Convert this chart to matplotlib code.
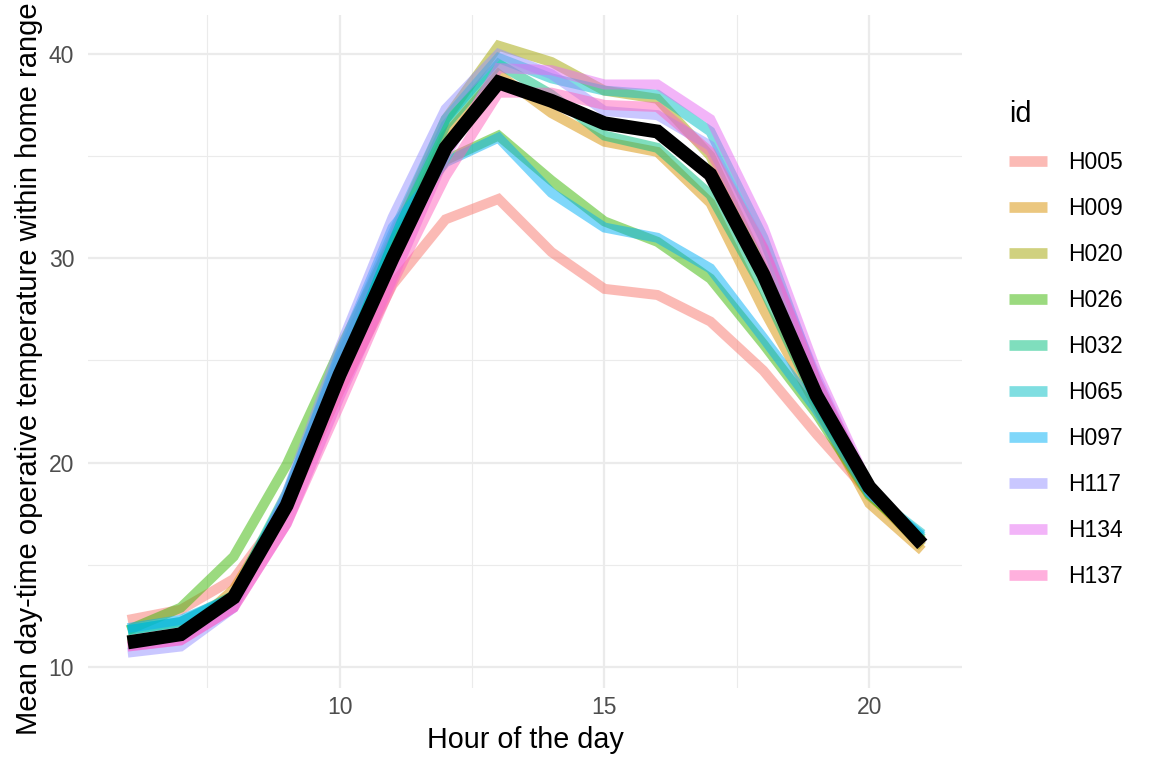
import numpy as np
import matplotlib.pyplot as plt
from matplotlib.ticker import MultipleLocator

# hour of the day
hours = list(range(6, 22))

ids = ['H005', 'H009', 'H020', 'H026', 'H032', 'H065', 'H097', 'H117', 'H134', 'H137']
colours = ['#F8766D', '#D89000', '#A3A500', '#39B600', '#00BF7D',
           '#00BFC4', '#00B0F6', '#9590FF', '#E76BF3', '#FF62BC']

# mean operative temperature per home range, one list per id
h005 = [12.3, 12.8, 14.3, 17.8, 23.5, 28.7, 31.9, 32.9, 30.3, 28.5, 28.2, 26.9, 24.5, 21.4, 18.5, 16.0]
h009 = [11.2, 11.5, 13.8, 18.0, 24.5, 30.2, 36.0, 39.0, 37.1, 35.7, 35.2, 32.7, 27.5, 22.8, 18.0, 15.7]
h020 = [11.3, 11.6, 13.5, 18.2, 25.0, 31.0, 36.8, 40.4, 39.6, 38.2, 37.8, 35.0, 29.5, 23.5, 18.5, 15.9]
h026 = [11.8, 12.9, 15.4, 19.9, 25.5, 30.8, 34.8, 36.0, 33.8, 31.8, 30.8, 29.0, 25.8, 22.4, 18.4, 16.2]
h032 = [11.8, 12.2, 13.5, 18.5, 25.0, 30.8, 36.5, 39.5, 38.0, 36.0, 35.4, 33.1, 28.5, 23.0, 18.6, 16.3]
h065 = [11.8, 12.2, 13.4, 18.4, 25.2, 31.2, 36.8, 39.8, 38.8, 38.2, 38.0, 36.2, 31.0, 24.0, 18.5, 16.5]
h097 = [11.9, 12.3, 13.4, 18.3, 25.3, 31.5, 34.7, 35.9, 33.2, 31.5, 31.0, 29.5, 26.1, 22.6, 18.5, 16.4]
h117 = [10.7, 11.0, 12.9, 18.5, 25.6, 32.0, 37.3, 40.0, 39.0, 37.2, 37.0, 35.5, 30.5, 24.2, 18.6, 16.0]
h134 = [11.0, 11.3, 12.9, 17.0, 23.2, 29.0, 35.0, 39.3, 39.2, 38.5, 38.5, 36.8, 31.5, 24.5, 18.8, 16.1]
h137 = [11.0, 11.3, 12.9, 17.0, 22.8, 28.8, 34.0, 38.1, 38.1, 37.5, 37.4, 35.2, 30.5, 24.0, 18.7, 16.0]
series = [h005, h009, h020, h026, h032, h065, h097, h117, h134, h137]

# overall mean (black line)
mean_temp = [11.2, 11.6, 13.4, 17.9, 24.3, 30.0, 35.4, 38.6, 37.7, 36.6, 36.2, 34.1, 29.2, 23.3, 18.8, 16.0]

plt.rcParams['font.family'] = ['Liberation Sans', 'DejaVu Sans']

fig = plt.figure(figsize=(11.52, 7.68), dpi=100)
ax = fig.add_axes([88/1152, 80/768, 874/1152, 673/768])

for vals, name, col in zip(series, ids, colours):
    ax.plot(hours, vals, color=col, alpha=0.5, lw=7.2, label=name,
            solid_joinstyle='miter', solid_capstyle='butt')
ax.plot(hours, mean_temp, color='black', lw=10, solid_joinstyle='miter',
        solid_capstyle='butt')

ax.set_xlim(5.25, 21.75)
ax.set_ylim(8.97, 41.9)
ax.xaxis.set_major_locator(MultipleLocator(5))
ax.xaxis.set_minor_locator(MultipleLocator(2.5))
ax.yaxis.set_major_locator(MultipleLocator(10))
ax.yaxis.set_minor_locator(MultipleLocator(5))
ax.grid(which='major', color='#EBEBEB', lw=1.6)
ax.grid(which='minor', color='#EBEBEB', lw=0.8)
ax.set_axisbelow(True)
for s in ax.spines.values():
    s.set_visible(False)
ax.tick_params(which='both', length=0, labelsize=16.5, labelcolor='#4D4D4D')
ax.tick_params(axis='x', pad=6)
ax.tick_params(axis='y', pad=10)

ax.set_xlabel('Hour of the day', fontsize=20.7)
ax.xaxis.set_label_coords(0.5, -0.056)
ax.set_ylabel('Mean day-time operative temperature within home range', fontsize=21)
ax.yaxis.set_label_coords(-0.052, 0.475)

leg = ax.legend(loc='upper left', bbox_to_anchor=(998/1152, 1 - 89/768),
                bbox_transform=fig.transFigure, frameon=False, title='id',
                handlelength=1.62, handletextpad=0.92, labelspacing=1.0,
                borderpad=0, prop={'size': 16.5})
leg.get_title().set_fontsize(20.7)
leg._legend_box.align = 'left'
for h in leg.get_lines():
    h.set_linewidth(7.7)

fig.savefig('out.png', dpi=100)
